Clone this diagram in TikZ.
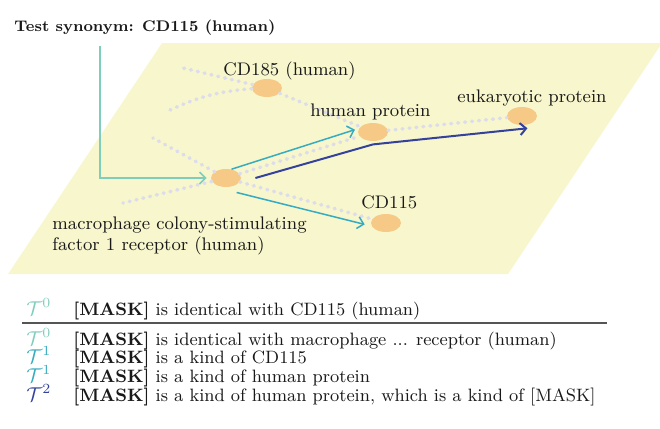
\documentclass[tikz,border=0pt]{standalone}
\usetikzlibrary{arrows.meta,shapes.geometric}
\definecolor{bgyel}{RGB}{248,246,204}
\definecolor{nodeor}{RGB}{246,201,135}
\definecolor{mint}{RGB}{127,205,187}
\definecolor{tealc}{RGB}{55,172,192}
\definecolor{dblue}{RGB}{52,66,158}
\definecolor{dotc}{RGB}{220,220,236}
\definecolor{rulec}{RGB}{85,85,85}
\definecolor{txt}{RGB}{25,25,25}
\begin{document}
\begin{tikzpicture}[x=0.5pt,y=-0.5pt,
  ent/.style={ellipse, fill=nodeor, minimum width=15pt, minimum height=9pt, inner sep=0pt},
  lbl/.style={font=\fontsize{9.1}{11}\selectfont, text=txt, inner sep=0pt, anchor=base west},
  dotline/.style={draw=dotc, line width=1.8pt, line cap=round, dash pattern=on 0.4pt off 3.1pt},
  arr/.style={-{Straight Barb[length=3pt,width=6pt]}, line width=0.75pt},
  tbl/.style={font=\fontsize{8.95}{11}\selectfont, text=txt, inner sep=0pt, anchor=base west},
  sym/.style={font=\fontsize{10.2}{12}\selectfont, inner sep=0pt, anchor=base west}]
\useasboundingbox (0,0) rectangle (660,429);
\fill[bgyel] (162,43) -- (662,43) -- (508,274) -- (8,274) -- cycle;
% entity nodes
\node[ent] (cd185) at (267,88) {};
\node[ent] (hp) at (373,132) {};
\node[ent] (eu) at (522,116) {};
\node[ent] (mc) at (226,178) {};
\node[ent] (cd115) at (386,223) {};
% free ends of faint edges
\coordinate (f1) at (183,68);
\coordinate (f2) at (170,110);
\coordinate (f3) at (153,138);
\coordinate (f4) at (123,203);
\coordinate (g0) at (100,46);
% faint dotted edges
\draw[dotline] (cd185) -- (f1);
\draw[dotline] (cd185) to[bend right=10] (f2);
\draw[dotline] (mc) -- (f3);
\draw[dotline] (mc) -- (f4);
\draw[dotline] (cd185) -- (hp);
\draw[dotline] (mc) -- (hp);
\draw[dotline] (mc) -- (cd115);
\draw[dotline] (hp) -- (eu);
% labels
\node[lbl, font=\bfseries\fontsize{7.7}{10}\selectfont] (title) at (14,31) {Test synonym: CD115 (human)};
\node[lbl] (lcd185) at (223,75) {CD185 (human)};
\node[lbl] (lhp) at (310,116) {human protein};
\node[lbl] (leu) at (457,102) {eukaryotic protein};
\node[lbl] (lcd115) at (361,208) {CD115};
\node[lbl] (lmc1) at (52,229) {macrophage colony-stimulating};
\node[lbl] (lmc2) at (52,250) {factor 1 receptor (human)};
% arrows
\draw[arr, mint, shorten >=2pt] (g0) |- (mc.west);
\draw[arr, tealc, shorten >=2pt] (mc.58) -- (hp.166);
\draw[arr, tealc, shorten >=3.5pt] ([shift={(4,6)}]mc.-52) -- (cd115.192);
\draw[arr, dblue, line width=1pt] ([xshift=7pt]mc.east) -- ([yshift=-1.5pt]hp.south) -- ([shift={(3,3)}]eu.-75);
% table
\node[sym, text=mint] (s1) at (26,315) {$\mathcal{T}^{0}$};
\node[tbl] (r1) at (73,315) {\textbf{[MASK]} is identical with CD115 (human)};
\draw[rulec, line width=0.7pt] (22,323) -- (607,323);
\node[sym, text=mint] (s2) at (26,345) {$\mathcal{T}^{0}$};
\node[tbl] (r2) at (73,345) {\textbf{[MASK]} is identical with macrophage ... receptor (human)};
\node[sym, text=tealc] (s3) at (26,363) {$\mathcal{T}^{1}$};
\node[tbl] (r3) at (73,363) {\textbf{[MASK]} is a kind of CD115};
\node[sym, text=tealc] (s4) at (26,382) {$\mathcal{T}^{1}$};
\node[tbl] (r4) at (73,382) {\textbf{[MASK]} is a kind of human protein};
\node[sym, text=dblue] (s5) at (26,401) {$\mathcal{T}^{2}$};
\node[tbl] (r5) at (73,401) {\textbf{[MASK]} is a kind of human protein, which is a kind of [MASK]};
\end{tikzpicture}
\end{document}
